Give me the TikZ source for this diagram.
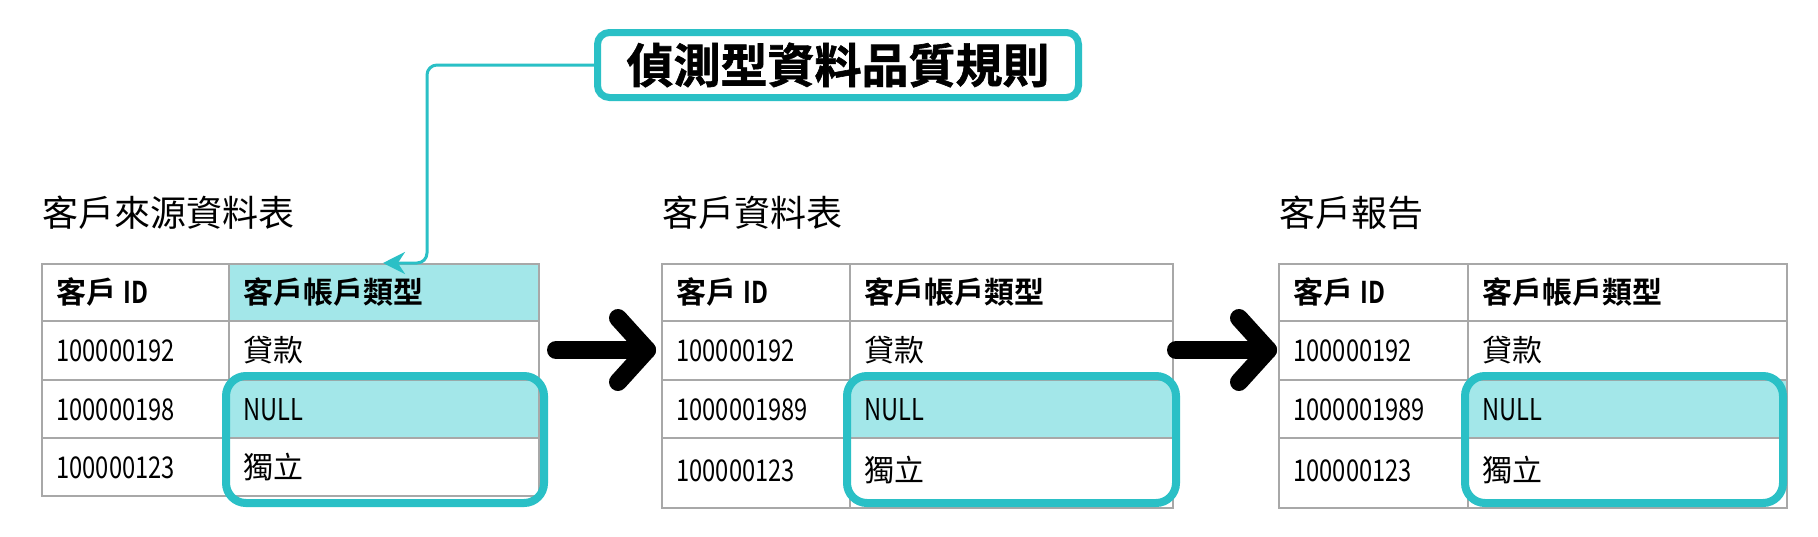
\documentclass[tikz,border=0pt]{standalone}
\usepackage{fontspec}
\setmainfont{Noto Sans CJK TC}[BoldFont={Noto Sans CJK TC Bold}]
\newfontfamily\lat{Noto Sans CJK TC}[FakeStretch=0.79,BoldFont={Noto Sans CJK TC Bold}]
\newfontfamily\titlefont{Noto Sans CJK TC Bold}[FakeBold=1.3]
\usetikzlibrary{arrows.meta}
\definecolor{tealc}{RGB}{42,192,198}
\definecolor{lteal}{RGB}{163,231,233}
\definecolor{gridc}{RGB}{168,168,168}
\tikzset{
  gline/.style={draw=gridc, line width=1pt},
  cell/.style={anchor=base west, inner sep=0pt, font=\fontsize{15}{18}\selectfont},
  hcell/.style={cell, font=\bfseries\fontsize{15}{18}\selectfont},
  lab/.style={anchor=base west, inner sep=0pt, font=\fontsize{18}{21}\selectfont},
  titlebox/.style={draw=tealc, line width=3.5pt, rounded corners=6pt, fill=white,
    minimum width=240.5pt, minimum height=32.5pt, inner sep=0pt,
    font=\titlefont\fontsize{23.5}{26}\selectfont},
  hlbox/.style={draw=tealc, line width=4pt, rounded corners=10pt},
  conn/.style={draw=tealc, line width=1.5pt, rounded corners=5pt, -{Stealth[length=11pt,width=11pt]}},
  bigarrow/.style={draw=black, line width=9pt, line cap=round, line join=round}
}
\newcommand\drawtab[7]{%
  \fill[lteal] (#3,380) rectangle (#4,438);
  \draw[gline] (#2,264) rectangle (#4,#5);
  \draw[gline] (#3,264) -- (#3,#5);
  \draw[gline] (#2,321) -- (#4,321);
  \draw[gline] (#2,380) -- (#4,380);
  \draw[gline] (#2,438) -- (#4,438);
  \node[hcell] (#1a) at (#2+14,303.5) {客戶 {\lat ID}};
  \node[hcell] (#1b) at (#3+14,303.5) {客戶帳戶類型};
  \node[cell] (#1c) at (#2+14,361.5) {\lat 100000192};
  \node[cell] (#1d) at (#3+14,361.5) {貸款};
  \node[cell] (#1e) at (#2+14,420) {\lat #6};
  \node[cell] (#1f) at (#3+14,420) {\lat NULL};
  \node[cell] (#1g) at (#2+14,#7) {\lat 100000123};
  \node[cell] (#1h) at (#3+14,#7) {獨立};
}
\begin{document}
\begin{tikzpicture}[x=0.5pt,y=-0.5pt]
\fill[white] (0,0) rectangle (1818,536);
\useasboundingbox (0,0) rectangle (1818,536);

% labels above tables
\node[lab] (lab1) at (42,226) {客戶來源資料表};
\node[lab] (lab2) at (662,226) {客戶資料表};
\node[lab] (lab3) at (1279,226) {客戶報告};

% tables
\fill[lteal] (229,264) rectangle (539,321);
\drawtab{ta}{42}{229}{539}{496}{100000198}{478}
\drawtab{tb}{662}{850}{1173}{508}{1000001989}{481}
\drawtab{tc}{1279}{1468}{1787}{508}{1000001989}{481}

% highlight boxes
\draw[hlbox] (226,376) rectangle (544,503);
\draw[hlbox] (847,376) rectangle (1176,503);
\draw[hlbox] (1465,376) rectangle (1783,503);

% big arrows
\coordinate (a1s) at (556,350);
\coordinate (a1t) at (647,350);
\coordinate (a2s) at (1176,350);
\coordinate (a2t) at (1268,350);
\draw[bigarrow] (a1s) -- (a1t);
\draw[bigarrow] ([shift={(-29,-32)}]a1t) -- (a1t) -- ([shift={(-29,32)}]a1t);
\draw[bigarrow] (a2s) -- (a2t);
\draw[bigarrow] ([shift={(-29,-32)}]a2t) -- (a2t) -- ([shift={(-29,32)}]a2t);

% title and connector
\node[titlebox] (title) at (838,65) {偵測型資料品質規則};
\coordinate (ccorner) at (427,263);
\coordinate (ctip) at (383,263);
\draw[conn] (title.west) -| (ccorner) -- (ctip);
\end{tikzpicture}
\end{document}
